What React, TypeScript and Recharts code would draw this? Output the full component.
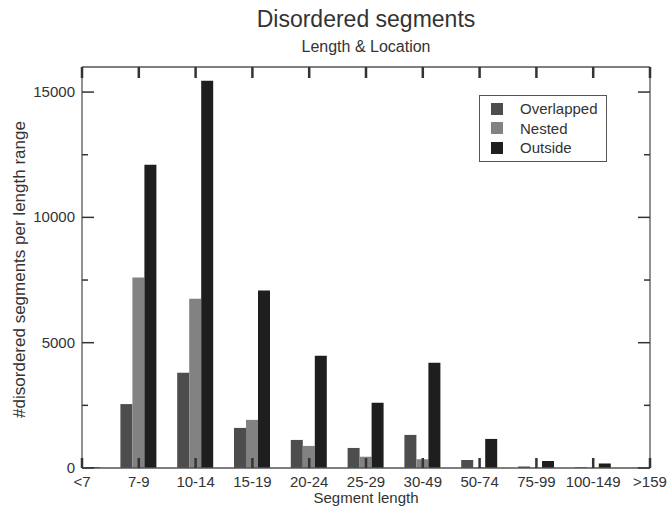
import React from 'react';
import { BarChart, Bar, XAxis, YAxis, Legend } from 'recharts';

// segment length ranges (x categories)
const categories = ['<7', '7-9', '10-14', '15-19', '20-24', '25-29', '30-49', '50-74', '75-99', '100-149', '>159'];

// counts per length range
const overlapped = [15, 2550, 3800, 1600, 1120, 800, 1320, 320, 60, 30, 10];
const nested = [5, 7600, 6750, 1920, 880, 450, 350, 20, 10, 5, 0];
const outside = [30, 12100, 15450, 7080, 4480, 2600, 4200, 1160, 280, 180, 40];

const seriesNames = ['Overlapped', 'Nested', 'Outside'];
const yTicks = [0, 2500, 5000, 7500, 10000, 12500, 15000];
const xTicks = categories.map((_, i) => i);

const data = categories.map((name, idx) => ({
  idx,
  name,
  overlapped: overlapped[idx],
  nested: nested[idx],
  outside: outside[idx],
}));

const FONT = '"Liberation Sans", Arial, Helvetica, sans-serif';
const INK = '#333';
const FRAME = '#555';
const TICK = '#333';
const MARGIN_TOP = 58;
const TOP_AXIS_H = 1;
const PLOT_TOP = MARGIN_TOP + TOP_AXIS_H;

// bottom tick: inward tick at the bottom plus the mirrored one under the top frame line
const BottomTick = (props: any) => {
  const { x, y, payload } = props;
  return (
    <g>
      <path d={`M${x},${y}v-10`} stroke={TICK} strokeWidth={2.5} />
      <path d={`M${x},${PLOT_TOP}v11`} stroke={TICK} strokeWidth={2.5} />
      <text x={x} y={y + 19} textAnchor="middle" fontSize={15} fill={INK} fontFamily={FONT}>
        {categories[payload.value]}
      </text>
    </g>
  );
};

const LeftTick = (props: any) => {
  const { x, y, payload } = props;
  const major = payload.value % 5000 === 0;
  return (
    <g>
      <path d={`M${x},${y}h${major ? 12 : 6}`} stroke={TICK} strokeWidth={1.5} />
      {major && (
        <text x={x - 7} y={y} dy={5} textAnchor="end" fontSize={15} fill={INK} fontFamily={FONT}>
          {payload.value}
        </text>
      )}
    </g>
  );
};

const RightTick = (props: any) => {
  const { x, y, payload } = props;
  const major = payload.value % 5000 === 0;
  return <path d={`M${x},${y}h${major ? -12 : -6}`} stroke={TICK} strokeWidth={1.5} />;
};

const renderLegend = (props: any) => {
  const items = [...(props.payload || [])].sort(
    (a: any, b: any) => seriesNames.indexOf(a.value) - seriesNames.indexOf(b.value)
  );
  return (
    <div
      style={{
        border: `1px solid ${FRAME}`,
        background: '#fff',
        padding: '3px 0 3px 11px',
        fontFamily: FONT,
        fontSize: 15,
        color: INK,
        boxSizing: 'border-box',
        width: 128,
      }}
    >
      {items.map((entry: any) => (
        <div key={entry.value} style={{ display: 'flex', alignItems: 'center', height: 19.5 }}>
          <span style={{ width: 12, height: 12, background: entry.color, marginRight: 17, display: 'inline-block' }} />
          {entry.value}
        </div>
      ))}
    </div>
  );
};

export default function App() {
  return (
    <div style={{ padding: 8, width: 654, height: 490 }}>
      <style>{'body { margin: 0; } svg.recharts-surface { overflow: visible !important; }'}</style>
      <div style={{ position: 'relative', width: 654, height: 490, fontFamily: FONT, color: INK }}>
        <div style={{ position: 'absolute', left: 74, width: 568, top: 0, textAlign: 'center', fontSize: 23, lineHeight: '23px' }}>
          Disordered segments
        </div>
        <div style={{ position: 'absolute', left: 74, width: 568, top: 31, textAlign: 'center', fontSize: 16, lineHeight: '16px' }}>
          Length &amp; Location
        </div>
        <BarChart
          width={654}
          height={490}
          data={data}
          margin={{ top: MARGIN_TOP, right: 0, bottom: 0, left: 0 }}
          barGap={0}
          barSize={12}
        >
          <XAxis
            dataKey="idx"
            type="number"
            domain={[0, 10]}
            ticks={xTicks}
            interval={0}
            allowDataOverflow
            height={30}
            tickSize={0}
            tickMargin={0}
            tickLine={false}
            tick={<BottomTick />}
            axisLine={{ stroke: FRAME, strokeWidth: 1.3 }}
          />
          <XAxis
            xAxisId="top"
            orientation="top"
            dataKey="idx"
            type="number"
            domain={[0, 10]}
            ticks={xTicks}
            allowDataOverflow
            height={TOP_AXIS_H}
            tickLine={false}
            tick={false}
            axisLine={{ stroke: FRAME, strokeWidth: 1.3 }}
          />
          <YAxis
            type="number"
            domain={[0, 16000]}
            ticks={yTicks}
            interval={0}
            allowDataOverflow
            width={74}
            tickSize={0}
            tickMargin={0}
            tickLine={false}
            tick={<LeftTick />}
            axisLine={{ stroke: FRAME, strokeWidth: 1.3 }}
          />
          <YAxis
            yAxisId="right"
            orientation="right"
            type="number"
            domain={[0, 16000]}
            ticks={yTicks}
            interval={0}
            allowDataOverflow
            width={12}
            tickSize={0}
            tickMargin={0}
            tickLine={false}
            tick={<RightTick />}
            axisLine={{ stroke: FRAME, strokeWidth: 1.3 }}
          />
          <Legend
            layout="horizontal"
            verticalAlign="middle"
            align="center"
            content={renderLegend}
            wrapperStyle={{ left: 471, top: 87, width: 128 }}
          />
          <Bar dataKey="overlapped" name="Overlapped" fill="#4d4d4d" isAnimationActive={false} />
          <Bar dataKey="nested" name="Nested" fill="#828282" isAnimationActive={false} />
          <Bar dataKey="outside" name="Outside" fill="#1e1e1e" isAnimationActive={false} />
        </BarChart>
        <div
          style={{
            position: 'absolute',
            left: -139,
            top: 253,
            width: 300,
            height: 17,
            fontSize: 17,
            lineHeight: '17px',
            textAlign: 'center',
            transform: 'rotate(-90deg)',
            whiteSpace: 'nowrap',
          }}
        >
          #disordered segments per length range
        </div>
        <div style={{ position: 'absolute', left: 74, width: 568, top: 482, textAlign: 'center', fontSize: 15, lineHeight: '15px' }}>
          Segment length
        </div>
      </div>
    </div>
  );
}
